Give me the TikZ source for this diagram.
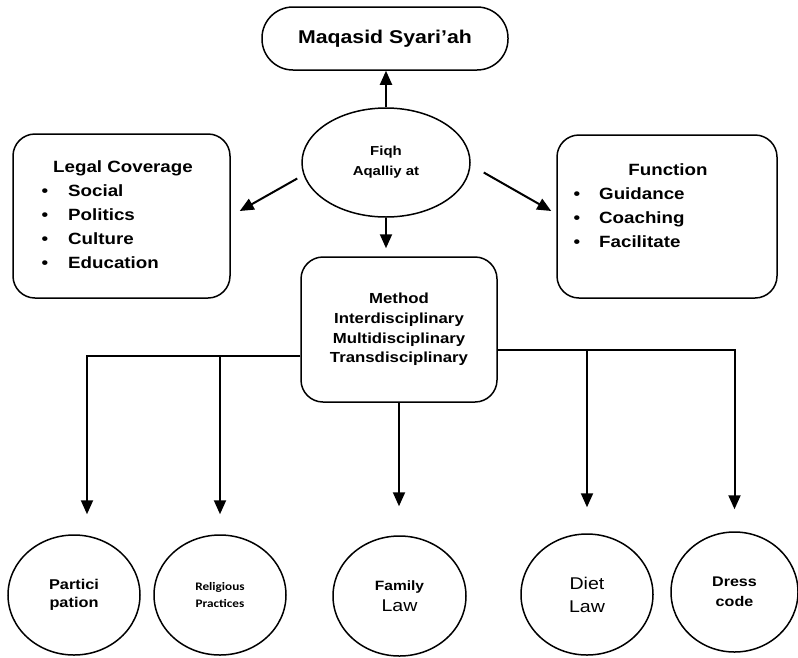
\documentclass[tikz,border=0pt]{standalone}
\usepackage{fontspec}
\setmainfont{Liberation Sans}[FakeStretch=1.15]
\newfontfamily\carl{Carlito}[FakeStretch=1.15]
\usetikzlibrary{arrows.meta,shapes.geometric}
\begin{document}
\begin{tikzpicture}[x=1pt,y=-1pt,
  box/.style={draw, rounded corners=22pt, inner sep=0pt, line width=1.5pt},
  oval/.style={draw, ellipse, inner sep=0pt, line width=1.5pt, align=center},
  arr/.style={-{Triangle[length=14pt,width=12pt]}, line width=2pt},
  bt/.style={font=\bfseries\fontsize{16.3}{20}\selectfont, inner sep=0pt, anchor=base west},
  bl/.style={bt, anchor=base}]
\useasboundingbox (0,0) rectangle (798,657);

% top
\node[box, rounded corners=31pt, minimum width=246pt, minimum height=63pt,
  font=\bfseries\fontsize{18.5}{22}\selectfont] (maq) at (385,38.5) {Maqasid Syari’ah};
\node[oval, minimum width=168pt, minimum height=109pt,
  font=\bfseries\fontsize{13}{20}\selectfont] (fiqh) at (386,162.5) {Fiqh\\Aqalliy at};

% legal coverage
\node[box, minimum width=217pt, minimum height=164pt] (legal) at (121.5,216) {};
\node[bl] (lgt) at (123,172) {Legal Coverage};
\node[bl] (lb1) at (45,196) {\textbullet};
\node[bl] (lb2) at (45,220) {\textbullet};
\node[bl] (lb3) at (45,244) {\textbullet};
\node[bl] (lb4) at (45,268) {\textbullet};
\node[bt] (l1) at (68,196) {Social};
\node[bt] (l2) at (68,220) {Politics};
\node[bt] (l3) at (68,244) {Culture};
\node[bt] (l4) at (68,268) {Education};

% function
\node[box, minimum width=220pt, minimum height=163pt] (func) at (667,216.5) {};
\node[bl] (fnt) at (668,175) {Function};
\node[bl] (fb1) at (577,199) {\textbullet};
\node[bl] (fb2) at (577,223) {\textbullet};
\node[bl] (fb3) at (577,247) {\textbullet};
\node[bt] (f1) at (599,199) {Guidance};
\node[bt] (f2) at (599,223) {Coaching};
\node[bt] (f3) at (599,247) {Facilitate};

% method
\node[box, minimum width=196pt, minimum height=145pt, align=center,
  font=\bfseries\fontsize{14.6}{19.6}\selectfont] (meth) at (399,329.5)
  {Method\\Interdisciplinary\\Multidisciplinary\\Transdisciplinary};

% bottom ellipses
\node[oval, minimum width=132pt, minimum height=120pt,
  font=\bfseries\fontsize{14.2}{18}\selectfont] (part) at (74,595) {Partici\\pation};
\node[oval, minimum width=132pt, minimum height=120pt,
  font=\carl\bfseries\fontsize{11.5}{17}\selectfont] (relig) at (220,595) {Religious\\Practices};
\node[oval, minimum width=133pt, minimum height=120pt,
  font=\fontsize{17}{21}\selectfont] (fam) at (399.5,596) {{\bfseries\fontsize{13.5}{21}\selectfont Family}\\Law};
\node[oval, minimum width=132pt, minimum height=121pt,
  font=\fontsize{17}{23}\selectfont] (diet) at (587,594.5) {Diet\\Law};
\node[oval, minimum width=127pt, minimum height=120pt,
  font=\bfseries\fontsize{14}{20}\selectfont] (dress) at (734.5,592) {Dress\\code};

% connectors from Fiqh
\draw[arr] (fiqh.north) -- (fiqh.north |- maq.south);
\draw[arr, shorten >=8pt] (fiqh.south) -- (fiqh.south |- meth.north);
\draw[arr] ([shift={(-4,16)}]fiqh.west) -- ([shift={(9,-5)}]legal.east);
\draw[arr] ([shift={(13,10)}]fiqh.east) -- ([shift={(-5,-5.5)}]func.west);

% connectors from Method
\coordinate (ml) at ([shift={(0,26.5)}]meth.west);
\coordinate (mr) at ([shift={(0,20.5)}]meth.east);
\draw[arr] (ml) -| ([shift={(13,-20)}]part.north);
\draw[arr, shorten >=20pt] (ml -| relig.north) -- (relig.north);
\draw[arr, shorten >=29pt] (meth.south) -- (meth.south |- fam.north);
\draw[arr, shorten >=26pt] (mr -| diet.north) -- (diet.north);
\draw[arr, shorten >=22pt] (mr) -| (dress.north);
\end{tikzpicture}
\end{document}
